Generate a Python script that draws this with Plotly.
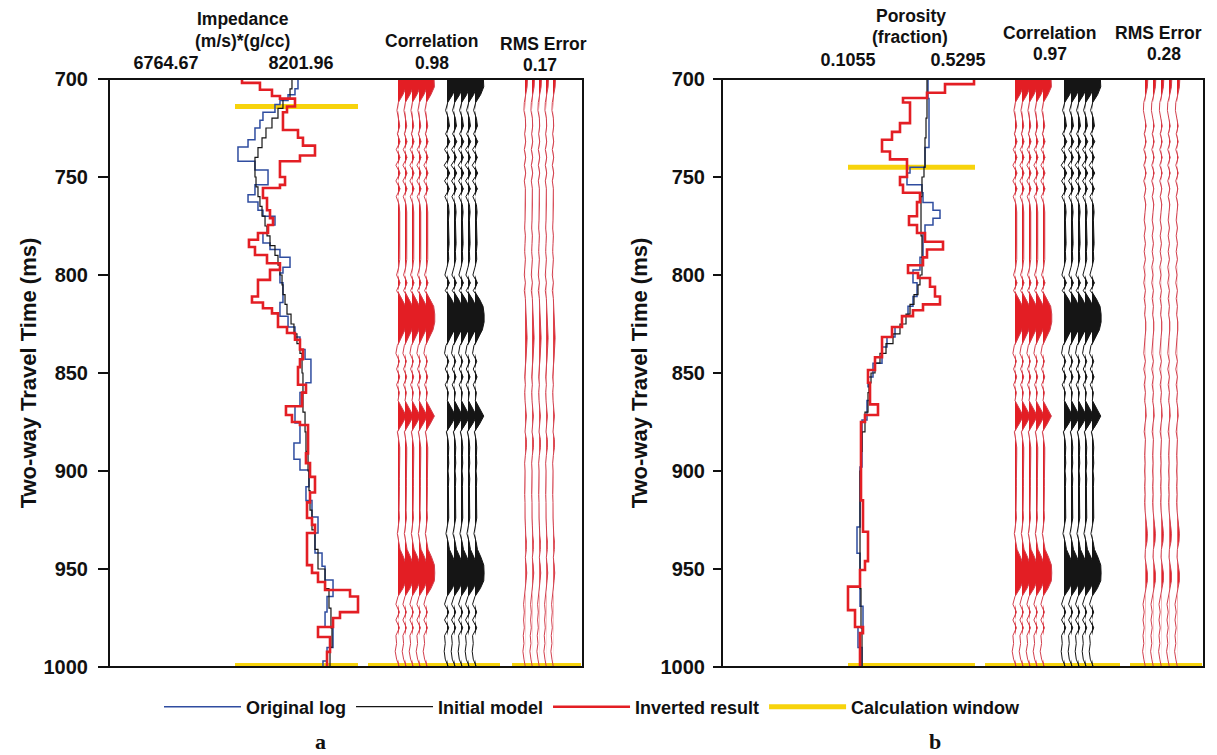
import plotly.graph_objects as go

W, H = 1217, 755
FONT = "Liberation Sans, Arial, sans-serif"

# ---------------- data ----------------
time_ticks = [700, 750, 800, 850, 900, 950, 1000]
impedance_ticks = [6764.67, 8201.96]
porosity_ticks = [0.1055, 0.5295]
correlation = [0.98, 0.97]
rms_error = [0.17, 0.28]
calc_window_a = [714, 1000]
calc_window_b = [745, 1000]
synthetic_traces = [1, 2, 3, 4, 5]
seismic_traces = [8, 9, 10, 11, 12]
error_traces = [1, 2, 3, 4, 5]

# Panel a: impedance (m/s)*(g/cc), step curves (time of top of each block, value)
imp_log_t = [700, 705, 708, 711, 713, 717, 721, 725, 731, 734.7, 742, 746.4, 754, 759, 762.8, 767, 770,
             774.5, 778.6, 783.7, 787, 791, 796, 799, 804, 814, 821, 826.5, 831.6, 838, 843, 855, 860, 867,
             875.5, 885.7, 894, 899.5, 908, 915, 923.5, 931.6, 941.8, 948.6, 955.6, 964, 972, 979.6, 990,
             997, 1000]
imp_log_v = [8170, 8138, 8064, 7978, 7925, 7797, 7765, 7712, 7638, 7531, 7712, 7851, 7712, 7638, 7744, 7797,
             7925, 7851, 7797, 7872, 7978, 8085, 8010, 7978, 8010, 7978, 8064, 8138, 8191, 8245, 8308, 8255,
             8191, 8138, 8191, 8127, 8191, 8287, 8255, 8319, 8383, 8351, 8426, 8458, 8543, 8479, 8458, 8543,
             8479, 8436, 8436]
imp_init_t = [700, 705, 710, 715, 720, 725, 730, 735, 740, 745, 750, 755, 760, 765, 770, 775, 780, 785, 790,
              795, 800, 805, 810, 815, 820, 825, 830, 835, 840, 850, 860, 870, 880, 890, 900, 910, 920, 930,
              940, 950, 960, 970, 980, 990, 1000]
imp_init_v = [8106, 8085, 8010, 7957, 7893, 7829, 7787, 7744, 7712, 7712, 7723, 7744, 7765, 7787, 7819, 7840,
              7872, 7925, 7957, 7978, 8000, 8010, 8032, 8053, 8096, 8127, 8159, 8191, 8213, 8223, 8223, 8245,
              8255, 8277, 8287, 8298, 8319, 8351, 8383, 8458, 8500, 8521, 8532, 8511, 8489]
imp_inv_t = [700, 702, 705.5, 708.7, 710, 714, 717, 726, 730, 734, 739, 742, 750, 754, 755.6, 760.7, 767, 771,
             774.5, 778.6, 782, 785.7, 789.8, 794, 797.4, 802.5, 811, 814, 817, 819.6, 826.5, 829.6, 833, 838,
             843, 847, 856, 860, 867, 871.4, 875, 876.5, 891, 896, 903, 911, 916, 924, 927.5, 931.6, 948, 952,
             956.6, 960.7, 964, 972, 975, 979.6, 984.7, 992.3, 1000]
imp_inv_v = [7574, 7765, 7893, 7978, 8138, 8053, 8010, 8170, 8223, 8351, 8191, 7978, 8032, 7978, 7797, 7840,
             7872, 7904, 7851, 7744, 7648, 7712, 7840, 7978, 7872, 7744, 7680, 7797, 7893, 7957, 8053, 8138,
             8191, 8223, 8191, 8170, 8255, 8213, 8042, 8106, 8191, 8277, 8255, 8298, 8351, 8298, 8266, 8319,
             8351, 8266, 8319, 8383, 8458, 8724, 8809, 8617, 8543, 8383, 8511, 8479, 8479]

# Panel b: porosity (fraction)
por_log_t = [700, 710, 735, 745, 748, 754, 758, 763, 767, 771, 774.5, 778.6, 791, 797.4, 804, 811, 816, 821,
             826.5, 831.6, 836.7, 845, 852, 857, 864, 874, 898, 928.6, 942, 969, 979.6, 990, 1000]
por_log_v = [0.4139, 0.4177, 0.4023, 0.3445, 0.3329, 0.3907, 0.3946, 0.4331, 0.4601, 0.4331, 0.4023, 0.3946,
             0.3830, 0.3560, 0.3715, 0.3560, 0.3368, 0.3136, 0.2867, 0.2558, 0.2366, 0.2019, 0.1826, 0.1903,
             0.1787, 0.1595, 0.1518, 0.1402, 0.1518, 0.1633, 0.1440, 0.1595, 0.1595]
por_init_t = [700, 710, 720, 730, 740, 745, 750, 760, 770, 780, 790, 800, 805, 810, 815, 820, 825, 830, 835,
              840, 845, 850, 855, 860, 870, 880, 890, 900, 920, 940, 960, 980, 1000]
por_init_v = [0.4100, 0.4100, 0.4062, 0.4023, 0.4023, 0.3984, 0.3907, 0.3869, 0.3869, 0.3907, 0.3907, 0.3830,
              0.3753, 0.3599, 0.3445, 0.3291, 0.3059, 0.2790, 0.2520, 0.2288, 0.2096, 0.1942, 0.1864, 0.1826,
              0.1710, 0.1595, 0.1556, 0.1518, 0.1518, 0.1518, 0.1556, 0.1595, 0.1595]
por_inv_t = [700, 702.6, 707, 709.7, 712, 722.5, 727, 731, 737, 741, 750, 754, 758, 762.8, 770, 774.5, 778.6,
             783, 787, 791, 795, 799, 801.5, 806, 811, 815, 818, 821, 826.5, 831.6, 842, 848.5, 855, 866,
             871.4, 875, 915, 931, 946, 950.5, 959, 971, 979.6, 982.7, 1000]
por_inv_v = [0.5912, 0.4794, 0.4100, 0.3175, 0.3445, 0.3059, 0.2751, 0.2366, 0.2674, 0.3329, 0.3059, 0.3175,
             0.3830, 0.3715, 0.3406, 0.3715, 0.4023, 0.4717, 0.4100, 0.3946, 0.3368, 0.3753, 0.4216, 0.4408,
             0.4601, 0.3946, 0.3560, 0.3136, 0.2751, 0.2366, 0.2096, 0.1826, 0.1903, 0.2211, 0.1710, 0.1556,
             0.1633, 0.1826, 0.1710, 0.1518, 0.1055, 0.1325, 0.1633, 0.1518, 0.1518]

# Wiggle traces (amplitude in trace-spacing units), sampled every 4 ms
wiggle_t = list(range(700, 1001, 4))
synthetic = [1.15, 1.2, 0.7, 0.05, -0.15, 0.1, 0.25, -0.1, 0.3, -0.25,
             0.3, -0.3, 0.3, -0.3, 0.3, -0.25, 0.15, 0.25, 0.25, 0.2,
             0.25, 0.25, 0.2, 0.25, 0.1, -0.2, 0.3, -0.2, 0.5, 1.1,
             1.25, 1.25, 1.0, 0.5, -0.1, -0.3, 0.2, -0.2, 0.25, -0.2,
             0.2, 0.0, 0.6, 1.2, 0.6, -0.1, 0.1, 0.25, 0.25, 0.2,
             0.15, 0.2, 0.2, 0.15, 0.2, 0.15, 0.2, 0.05, -0.1, 0.1,
             0.3, 0.8, 1.2, 1.25, 1.2, 0.7, 0.0, -0.3, 0.2, -0.3,
             0.2, -0.3, -0.2, -0.4, -0.2, 0.2]
seismic = [1.2, 1.25, 0.8, 0.1, -0.2, 0.2, 0.35, -0.2, 0.4, -0.35,
           0.35, -0.4, 0.4, -0.35, 0.35, -0.3, 0.2, 0.3, 0.2, 0.25,
           0.2, 0.3, 0.2, 0.25, 0.0, -0.3, 0.35, -0.25, 0.6, 1.15,
           1.3, 1.3, 1.05, 0.5, -0.15, -0.35, 0.25, -0.25, 0.3, -0.25,
           0.2, 0.05, 0.7, 1.25, 0.65, -0.1, 0.15, 0.25, 0.2, 0.25,
           0.15, 0.25, 0.2, 0.2, 0.25, 0.15, 0.25, 0.05, -0.15, 0.15,
           0.35, 0.85, 1.25, 1.3, 1.25, 0.75, 0.0, -0.35, 0.25, -0.35,
           0.25, -0.35, -0.25, -0.4, -0.25, 0.2]
rms_a = [0.35, 0.3, 0.1, -0.1, -0.15, 0.05, 0.1, -0.05, 0.1, -0.1,
         0.1, -0.1, 0.1, -0.1, 0.05, 0.05, 0.1, 0.05, 0.0, -0.05,
         0.05, 0.0, -0.05, 0.05, 0.0, -0.1, 0.05, -0.1, 0.05, 0.1,
         0.15, 0.25, 0.3, 0.3, 0.25, 0.2, 0.15, 0.05, -0.05, 0.05,
         -0.05, 0.0, 0.1, 0.2, 0.1, 0.0, 0.2, 0.2, 0.05, -0.05,
         0.0, -0.05, 0.0, -0.05, 0.0, -0.05, 0.0, 0.05, 0.1, 0.25,
         0.2, 0.05, 0.2, 0.25, 0.15, 0.05, -0.1, -0.2, -0.1, -0.2,
         -0.1, -0.25, -0.15, -0.3, -0.15, 0.05]
rms_b = [0.35, 0.3, 0.1, -0.15, -0.2, 0.0, 0.15, -0.1, 0.15, -0.15,
         0.15, -0.15, 0.15, -0.15, 0.1, -0.1, 0.1, 0.0, -0.1, 0.05,
         -0.1, 0.05, -0.1, 0.05, -0.15, 0.0, -0.15, 0.05, -0.1, 0.05,
         -0.05, 0.1, 0.1, 0.0, -0.1, -0.15, 0.05, -0.15, 0.05, -0.1,
         0.05, -0.05, 0.1, 0.15, 0.0, -0.1, 0.05, 0.0, -0.05, 0.0,
         -0.05, 0.0, -0.05, 0.0, -0.05, 0.0, 0.1, 0.25, 0.3, 0.25,
         0.05, 0.0, 0.15, 0.3, 0.3, 0.1, -0.1, -0.25, -0.1, -0.25,
         -0.1, -0.25, -0.15, -0.3, -0.15, 0.05]

# ---------------- styling ----------------
BLUE = "#2f4da0"
BLACK = "#151515"
RED = "#e31e24"
YELLOW = "#f7d30c"
WRED_LINE = "#d2404e"


def fx(x):
    return x / W


def fy(y):
    return (H - y) / H


fig = go.Figure()


def add_curves(t_log, v_log, t_init, v_init, t_inv, v_inv, xa, ya, legend):
    fig.add_trace(go.Scatter(x=v_log, y=t_log, xaxis=xa, yaxis=ya, mode="lines", line_shape="vh",
                             line=dict(color=BLUE, width=1.5), name="Original log", showlegend=legend,
                             hoverinfo="skip"))
    fig.add_trace(go.Scatter(x=v_init, y=t_init, xaxis=xa, yaxis=ya, mode="lines", line_shape="vh",
                             line=dict(color=BLACK, width=1.2), name="Initial model", showlegend=legend,
                             hoverinfo="skip"))
    fig.add_trace(go.Scatter(x=v_inv, y=t_inv, xaxis=xa, yaxis=ya, mode="lines", line_shape="vh",
                             line=dict(color=RED, width=2.6), name="Inverted result", showlegend=legend,
                             hoverinfo="skip"))


def add_wiggles(positions, amps, xa, ya, fill, line):
    for k in positions:
        px_ = [k + max(a, 0) for a in amps] + [k, k]
        py_ = wiggle_t + [wiggle_t[-1], wiggle_t[0]]
        fig.add_trace(go.Scatter(x=px_, y=py_, xaxis=xa, yaxis=ya, mode="lines", fill="toself",
                                 fillcolor=fill, line=dict(width=0, color=fill), showlegend=False,
                                 hoverinfo="skip"))
        fig.add_trace(go.Scatter(x=[k + a for a in amps], y=wiggle_t, xaxis=xa, yaxis=ya, mode="lines",
                                 line=dict(color=line, width=1), showlegend=False, hoverinfo="skip"))


add_curves(imp_log_t, imp_log_v, imp_init_t, imp_init_v, imp_inv_t, imp_inv_v, "x", "y", True)
add_wiggles(synthetic_traces, synthetic, "x2", "y", RED, WRED_LINE)
add_wiggles(seismic_traces, seismic, "x2", "y", BLACK, BLACK)
add_wiggles(error_traces, rms_a, "x3", "y", RED, WRED_LINE)

add_curves(por_log_t, por_log_v, por_init_t, por_init_v, por_inv_t, por_inv_v, "x4", "y2", False)
add_wiggles(synthetic_traces, synthetic, "x5", "y2", RED, WRED_LINE)
add_wiggles(seismic_traces, seismic, "x5", "y2", BLACK, BLACK)
add_wiggles(error_traces, rms_b, "x6", "y2", RED, WRED_LINE)

ydom = [fy(667), fy(79)]

# calculation-window bars + panel frames
shapes = []
first = True
for yref, win, top_span, spans in [
    ("y", calc_window_a, (235, 358), [(235, 358), (368, 500), (512, 581)]),
    ("y2", calc_window_b, (848, 975), [(848, 975), (985, 1120), (1130, 1202)]),
]:
    segs = [(top_span, win[0], 5)] + [(s, win[1], 8) for s in spans]
    for (x0, x1), yv, lw in segs:
        shp = dict(type="line", xref="paper", yref=yref, x0=fx(x0), x1=fx(x1), y0=yv, y1=yv,
                   line=dict(color=YELLOW, width=lw), layer="below")
        if first:
            shp.update(showlegend=True, name="Calculation window")
            first = False
        shapes.append(shp)
for x0, x1 in [(109, 583), (722, 1204)]:
    shapes.append(dict(type="rect", xref="paper", yref="paper", x0=fx(x0), x1=fx(x1), y0=ydom[0],
                       y1=ydom[1], line=dict(color="#111", width=2), fillcolor="rgba(0,0,0,0)",
                       layer="above"))

bold = dict(family=FONT, color="#111", weight="bold")
hidden = dict(showgrid=False, zeroline=False, showline=False, ticks="", showticklabels=False,
              fixedrange=True, automargin=False)


def time_y(pos, ticklen, standoff, lab_standoff):
    return dict(domain=ydom, range=[1000, 700], anchor="free", position=fx(pos), tickmode="array",
                tickvals=time_ticks, ticks="outside", ticklen=ticklen, tickwidth=2, tickcolor="#111",
                showline=True, linecolor="#111", linewidth=2, showgrid=False, zeroline=False,
                tickfont=dict(size=20, **bold), ticklabelstandoff=lab_standoff, fixedrange=True,
                automargin=False,
                title=dict(text="Two-way Travel Time (ms)", font=dict(size=22, **bold), standoff=standoff))


def value_x(d0, d1, rng, anchor, ticks, fmt, lab_standoff):
    return dict(domain=[fx(d0), fx(d1)], range=rng, anchor=anchor, side="top", tickmode="array",
                tickvals=ticks, ticktext=[fmt.format(v) for v in ticks], ticks="", showgrid=False,
                zeroline=False, showline=False, tickfont=dict(size=18, **bold),
                ticklabelstandoff=lab_standoff, fixedrange=True, automargin=False)


def track_x(d0, d1, rng, anchor):
    d = dict(hidden)
    d.update(domain=[fx(d0), fx(d1)], range=rng, anchor=anchor)
    return d


headers = [
    ("Impedance", 243, 19), ("(m/s)*(g/cc)", 242, 41), ("Correlation", 431, 41),
    ("{:.2f}".format(correlation[0]), 432, 63), ("RMS Error", 543, 44), ("{:.2f}".format(rms_error[0]), 540, 65),
    ("Porosity", 911, 16), ("(fraction)", 910, 37), ("Correlation", 1049, 33),
    ("{:.2f}".format(correlation[1]), 1050, 54), ("RMS Error", 1158, 33), ("{:.2f}".format(rms_error[1]), 1164, 54),
]
annotations = [dict(text=t, x=fx(x), y=fy(y), xref="paper", yref="paper", xanchor="center", yanchor="middle",
                    showarrow=False, font=dict(size=17.5, **bold)) for t, x, y in headers]
for t, x in [("a", 320), ("b", 935)]:
    annotations.append(dict(text=t, x=fx(x), y=fy(741), xref="paper", yref="paper", xanchor="center",
                            yanchor="middle", showarrow=False,
                            font=dict(size=22, family="Liberation Serif, Times New Roman, serif",
                                      color="#111", weight="bold")))

fig.update_layout(
    width=W, height=H, margin=dict(l=0, r=0, t=0, b=0, autoexpand=False),
    paper_bgcolor="white", plot_bgcolor="rgba(0,0,0,0)",
    font=dict(family=FONT, color="#111"),
    hovermode=False,
    xaxis=value_x(130, 360, [6381.38, 8830.19], "y", impedance_ticks, "{:.2f}", 5),
    xaxis2=track_x(368, 500, [-3.2857, 15.571], "y"),
    xaxis3=track_x(512, 583, [-0.857, 9.286], "y"),
    yaxis=time_y(109, 10, 0, 6),
    xaxis4=value_x(840, 980, [0.07466, 0.61429], "y2", porosity_ticks, "{:.4f}", 8),
    xaxis5=track_x(985, 1120, [-3.2857, 16.0], "y2"),
    xaxis6=track_x(1130, 1204, [-0.875, 8.375], "y2"),
    yaxis2=time_y(722, 8, 6, 4),
    shapes=shapes,
    annotations=annotations,
    showlegend=True,
    legend=dict(orientation="h", x=fx(159), y=fy(707), xanchor="left", yanchor="middle",
                font=dict(size=18, **bold), itemwidth=77, bgcolor="rgba(0,0,0,0)",
                traceorder="normal"),
)

fig.write_html("out.html")
